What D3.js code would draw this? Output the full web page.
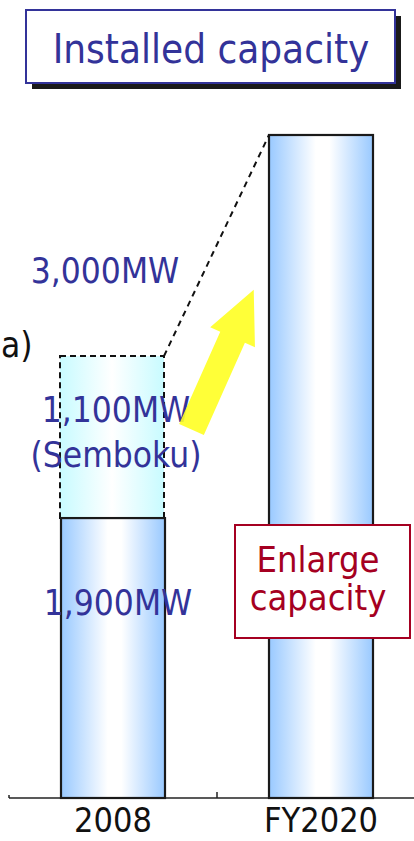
<!DOCTYPE html>
<html>
<head>
<meta charset="utf-8">
<script src="https://cdn.jsdelivr.net/npm/d3@7"></script>
<style>
  html, body { margin: 0; padding: 0; background: #fff; overflow: hidden; }
  text { font-family: 'DejaVu Sans Condensed', 'DejaVu Sans', sans-serif; font-stretch: condensed; }
</style>
</head>
<body>
<div id="app"></div>
<script>
'use strict'

const years = ['2008', 'FY2020']
const existing = [1900, 4500]   // solid bars (MW)
const semboku = [1100, 0]       // dashed add-on (MW)
const maxMW = 4500
const labels2008 = ['3,000MW', '1,100MW', '(Semboku)', '1,900MW']

const width = 414
const height = 841
const base = 798

const svg = d3.select('#app').append('svg')
  .attr('width', width)
  .attr('height', height)

const defs = svg.append('defs')

// horizontal blue -> white -> blue shading of the bars
const grad = defs.append('linearGradient').attr('id', 'barGrad')
grad.append('stop').attr('offset', '0%').attr('stop-color', '#99c9ff')
grad.append('stop').attr('offset', '45%').attr('stop-color', '#ffffff')
grad.append('stop').attr('offset', '58%').attr('stop-color', '#ffffff')
grad.append('stop').attr('offset', '100%').attr('stop-color', '#99c9ff')

const grad2 = defs.append('linearGradient').attr('id', 'dashGrad')
grad2.append('stop').attr('offset', '0%').attr('stop-color', '#c8fbff')
grad2.append('stop').attr('offset', '50%').attr('stop-color', '#ffffff')
grad2.append('stop').attr('offset', '100%').attr('stop-color', '#c8fbff')

const x = d3.scaleBand()
  .domain(years)
  .range([9, 425])
  .paddingInner(0.5)
  .paddingOuter(0.25)

const y = d3.scaleLinear()
  .domain([0, maxMW])
  .range([base, 135])

// title box with drop shadow
svg.append('rect')
  .attr('x', 32).attr('y', 16).attr('width', 369).attr('height', 73)
  .style('fill', '#1a1a1a')
svg.append('rect')
  .attr('x', 26).attr('y', 10).attr('width', 369).attr('height', 73)
  .style('fill', '#fff')
  .style('stroke', '#333399')
  .style('stroke-width', 2)
svg.append('text')
  .attr('x', 211).attr('y', 63)
  .attr('text-anchor', 'middle')
  .style('font-size', '40px')
  .style('fill', '#333399')
  .text('Installed capacity')

// axis baseline with ticks at band boundaries
svg.append('line')
  .attr('x1', 9).attr('x2', width)
  .attr('y1', base).attr('y2', base)
  .style('stroke', '#222').style('stroke-width', 1.5)
const tickXs = [x.range()[0], x.range()[0] + x.step()]
svg.selectAll('.tick')
  .data(tickXs)
  .enter().append('line')
  .attr('x1', d => d).attr('x2', d => d)
  .attr('y1', (d, i) => i === 0 ? base - 3 : base - 6).attr('y2', base)
  .style('stroke', '#222').style('stroke-width', 1.5)

svg.selectAll('.xlab')
  .data(years)
  .enter().append('text')
  .attr('x', d => x(d) + x.bandwidth() / 2)
  .attr('y', 832)
  .attr('text-anchor', 'middle')
  .style('font-size', '34px')
  .style('fill', '#111')
  .text(d => d)

// dashed Semboku block on top of 2008
const dashed = years.map((d, i) => ({ year: d, lo: existing[i], hi: existing[i] + semboku[i] }))
  .filter(d => d.hi > d.lo)
svg.selectAll('.dash')
  .data(dashed)
  .enter().append('rect')
  .attr('x', d => x(d.year) - 1)
  .attr('y', d => y(d.hi))
  .attr('width', x.bandwidth())
  .attr('height', d => y(d.lo) - y(d.hi))
  .style('fill', 'url(#dashGrad)')
  .style('stroke', '#111')
  .style('stroke-width', 2)
  .style('stroke-dasharray', '6,4')

// solid bars
svg.selectAll('.bar')
  .data(years)
  .enter().append('rect')
  .attr('x', d => x(d))
  .attr('y', (d, i) => y(existing[i]))
  .attr('width', x.bandwidth())
  .attr('height', (d, i) => base - y(existing[i]))
  .style('fill', 'url(#barGrad)')
  .style('stroke', '#1a1a1a')
  .style('stroke-width', 2.2)

// dashed connector from dashed top to FY2020 top
const d0 = dashed[0]
svg.append('line')
  .attr('x1', x(d0.year) - 1 + x.bandwidth()).attr('y1', y(d0.hi))
  .attr('x2', x(years[1])).attr('y2', y(existing[1]))
  .style('stroke', '#111').style('stroke-width', 2)
  .style('stroke-dasharray', '6,5')

// value labels for 2008
const labelPos = [[105, 283], [116, 422], [116, 467], [118, 615]]
svg.selectAll('.vlab')
  .data(labels2008)
  .enter().append('text')
  .attr('x', (d, i) => labelPos[i][0])
  .attr('y', (d, i) => labelPos[i][1])
  .attr('text-anchor', 'middle')
  .style('font-size', '35px')
  .style('fill', '#333399')
  .text(d => d)

// unit label at the left edge
svg.append('text')
  .attr('x', 1).attr('y', 357)
  .style('font-size', '35px')
  .style('fill', '#111')
  .text('a)')

// yellow arrow
const L = 153, sw = 27, hw = 49, hl = 52
const arrowPts = [[0, -sw / 2], [L - hl, -sw / 2], [L - hl, -hw / 2], [L, 0],
  [L - hl, hw / 2], [L - hl, sw / 2], [0, sw / 2]]
svg.append('path')
  .attr('d', d3.line()(arrowPts) + 'Z')
  .attr('transform', 'translate(191.5,429.5) rotate(-66)')
  .style('fill', '#ffff22')
  .style('fill-opacity', 0.9)

// Enlarge capacity box
svg.append('rect')
  .attr('x', 235).attr('y', 525).attr('width', 175).attr('height', 113)
  .style('fill', '#fff')
  .style('stroke', '#a50021')
  .style('stroke-width', 2)
svg.selectAll('.enl')
  .data(['Enlarge', 'capacity'])
  .enter().append('text')
  .attr('x', 318)
  .attr('y', (d, i) => i === 0 ? 572 : 610)
  .attr('text-anchor', 'middle')
  .style('font-size', '36px')
  .style('fill', '#a50021')
  .text(d => d)
</script>
</body>
</html>
